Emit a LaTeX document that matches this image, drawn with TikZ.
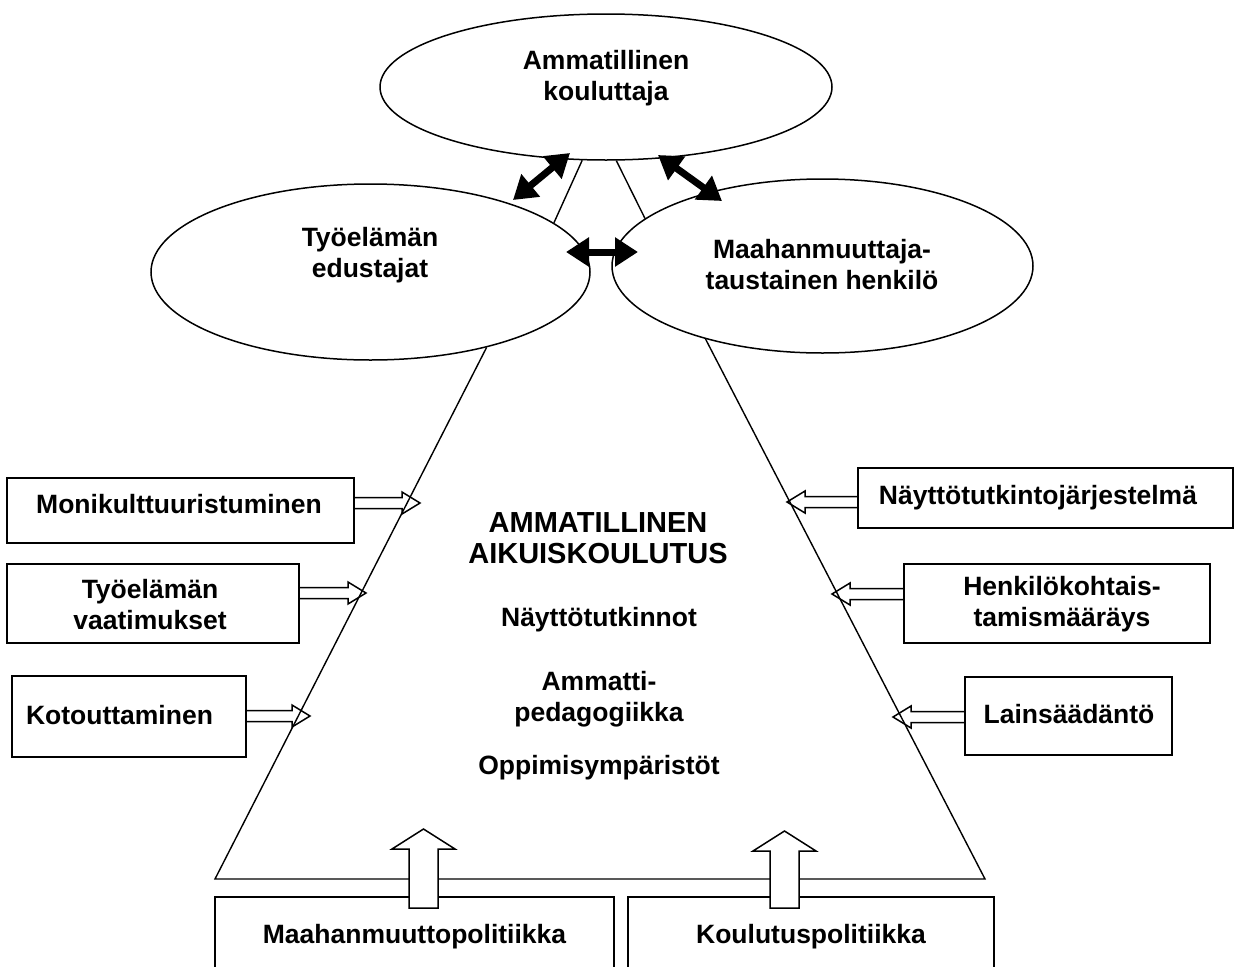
\documentclass[tikz,border=0pt]{standalone}
\usepackage{fontspec}
\setmainfont{Liberation Sans}
\usetikzlibrary{arrows.meta,shapes.geometric,calc}
\newcommand\hArrow[4]{% start x, tip x, y, direction
  \draw[hol] (#1,{#3-5.5}) -- ({#2-18*(#4)},{#3-5.5}) -- ({#2-18*(#4)},{#3-11}) -- (#2,#3)
    -- ({#2-18*(#4)},{#3+11}) -- ({#2-18*(#4)},{#3+5.5}) -- (#1,{#3+5.5});}
\newcommand\uArrow[2]{% centre x, tip y
  \draw[hol, fill=white] ({#1-14.5},908) -- ({#1-14.5},{#2+20}) -- ({#1-31.5},{#2+20}) -- (#1,#2)
    -- ({#1+31.5},{#2+20}) -- ({#1+14.5},{#2+20}) -- ({#1+14.5},908) -- cycle;}
\begin{document}
\begin{tikzpicture}[x=1pt,y=-1pt,
  every node/.style={font=\bfseries\fontsize{26.5}{31}\selectfont, inner sep=0pt},
  ell/.style={draw, ellipse, line width=1.5pt, inner sep=0pt},
  box/.style={draw, rectangle, line width=1.6pt, inner sep=0pt},
  txt/.style={align=center},
  thinline/.style={line width=1.4pt},
  dbl/.style={line width=7pt, {Triangle[length=23pt,width=28pt]}-{Triangle[length=23pt,width=28pt]}},
  hol/.style={line width=1.5pt, line join=miter}
]
\useasboundingbox (0,0) rectangle (1235,967);
\clip (0,0) rectangle (1235,967);

% ellipses
\node[ell, minimum width=452pt, minimum height=146pt] (kou) at (606,87) {};
\node[ell, minimum width=439pt, minimum height=176pt] (tyo) at (370.5,272) {};
\node[ell, minimum width=421pt, minimum height=174pt] (maa) at (822.5,266) {};
\node[txt] (kouT) at (606,78) {Ammatillinen\\kouluttaja};
\node[txt] (tyoT) at (370,255) {Työelämän\\edustajat};
\node[txt] (maaT) at (822,265) {Maahanmuuttaja-\\taustainen henkilö};

% thin links
\draw[thinline] (kou.-108) -- (tyo.15.4);
\draw[thinline] (kou.-82.3) -- (maa.165.1);

% double arrows
\coordinate (d1a) at (513,200); \coordinate (d1b) at (570,153);
\coordinate (d2a) at (658,155); \coordinate (d2b) at (722,201);
\coordinate (d3a) at (566,252); \coordinate (d3b) at (638,252);
\draw[dbl] (d1a) -- (d1b);
\draw[dbl] (d2a) -- (d2b);
\draw[dbl] (d3a) -- (d3b);

% trapezoid
\coordinate (bl) at (215,879);
\coordinate (br) at (985,879);
\draw[thinline] (tyo.-33.7) -- (bl) -- (br) -- (maa.-148);

% centre texts
\node[txt, font=\bfseries\fontsize{29}{31}\selectfont] (aik) at (598,538) {AMMATILLINEN\\AIKUISKOULUTUS};
\node (nay) at (599,620) {Näyttötutkinnot};
\node[txt] (amp) at (599,699) {Ammatti-\\pedagogiikka};
\node (opp) at (599,768) {Oppimisympäristöt};

% left boxes
\node[box, minimum width=347pt, minimum height=65pt] (mon) at (180.5,510.5) {};
\node (monT) at (179,504.5) {Monikulttuuristuminen};
\node[box, minimum width=292pt, minimum height=79pt] (tva) at (153,603.5) {};
\node[txt] (tvaT) at (150,605) {Työelämän\\vaatimukset};
\node[box, minimum width=234pt, minimum height=81pt] (kot) at (129,716.5) {};
\node (kotT) at (119.5,715.5) {Kotouttaminen};

% right boxes
\node[box, minimum width=375pt, minimum height=60pt] (nje) at (1045.5,498) {};
\node (njeT) at (1038,498) {Näyttötutkintojärjestelmä};
\node[box, minimum width=306pt, minimum height=79pt] (hen) at (1057,603.5) {};
\node[txt] (henT) at (1062,604) {Henkilökohtais-\\tamismääräys};
\node[box, minimum width=207pt, minimum height=78pt] (lai) at (1068.5,716) {};
\node (laiT) at (1069,714.5) {Lainsäädäntö};

% bottom boxes
\node[box, minimum width=399pt, minimum height=93pt] (mp) at (414.5,943.5) {};
\node (mpT) at (414.5,937) {Maahanmuuttopolitiikka};
\node[box, minimum width=366pt, minimum height=93pt] (kp) at (811,943.5) {};
\node (kpT) at (811,937) {Koulutuspolitiikka};

% hollow arrows
\hArrow{354}{420}{503}{1}
\hArrow{299}{366}{593}{1}
\hArrow{246}{310}{716}{1}
\hArrow{858}{787}{502}{-1}
\hArrow{904}{832}{594}{-1}
\hArrow{965}{893}{717}{-1}
\uArrow{423.5}{829}
\uArrow{784.5}{831}
\end{tikzpicture}
\end{document}
